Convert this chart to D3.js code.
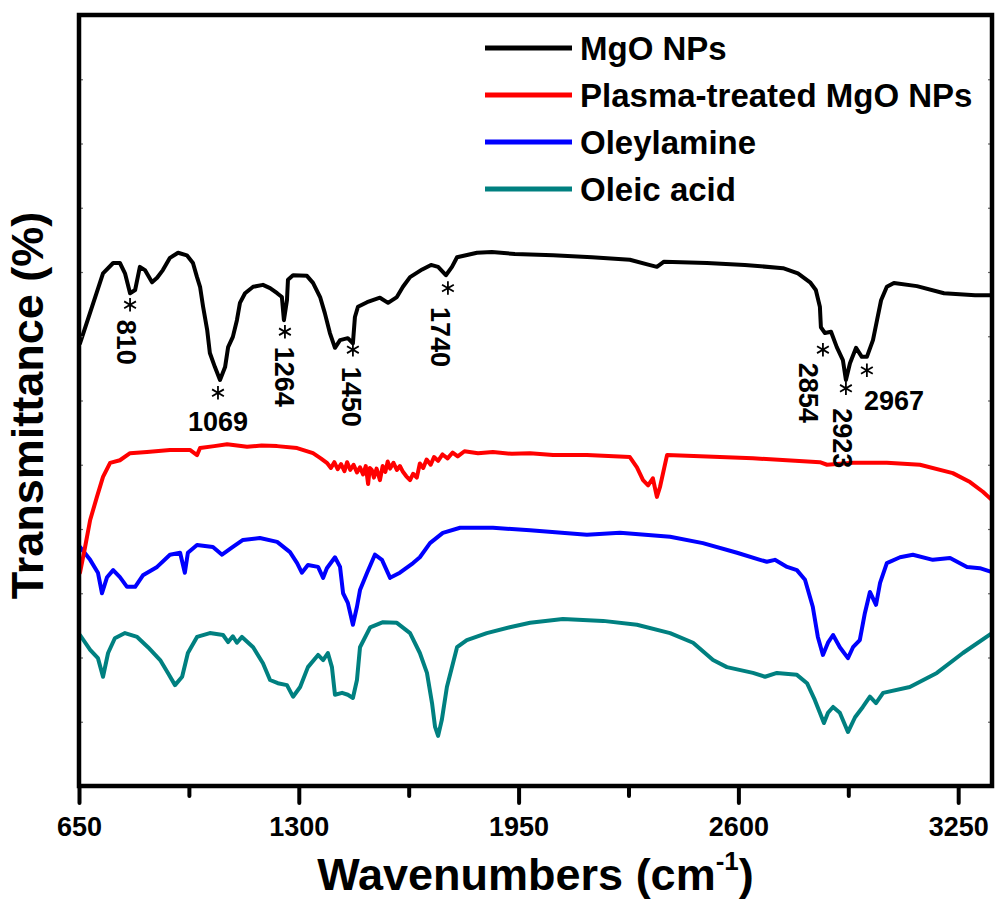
<!DOCTYPE html>
<html><head><meta charset="utf-8">
<script src="https://cdn.jsdelivr.net/npm/d3@7"></script>
<style>
body{margin:0;background:#fff}
svg{display:block}
text{font-family:Arial,"Liberation Sans",sans-serif;font-weight:bold;fill:#000}
</style>
</head><body>
<svg id="c" width="1002" height="903"></svg>
<script>
// ---------- DATA ----------
const seriesNames = ["MgO NPs", "Plasma-treated MgO NPs", "Oleylamine", "Oleic acid"];
const seriesColors = ["#000000", "#ff0000", "#0000ff", "#008080"];

const mgoWn = [653,721,751,771,786,801,816,830,845,866,881,898,919,943,969,987,999,1008,1017,1029,1037,1052,1067,1082,1091,1105,1117,1126,1141,1165,1194,1215,1236,1250,1256,1265,1268,1283,1324,1342,1363,1377,1392,1407,1422,1445,1460,1466,1475,1502,1540,1564,1590,1608,1629,1665,1691,1712,1735,1753,1768,1827,1871,1939,2052,2167,2279,2336,2359,2380,2507,2619,2732,2776,2812,2829,2841,2844,2856,2874,2891,2909,2918,2930,2948,2965,2980,2998,3010,3022,3039,3060,3128,3208,3300,3350];
const mgoT  = [68.9,79.8,81.4,81.4,79.8,76.7,77.2,80.8,80.3,78.4,79.1,80.3,82.2,83.0,82.6,81.4,79.2,77.7,74.6,71.0,67.4,65.2,63.2,65.2,68.3,69.9,72.5,75.2,76.7,77.7,78.0,77.5,76.7,76.1,72.5,75.6,78.8,79.5,79.4,78.3,76.1,73.6,70.5,68.2,69.4,69.7,68.9,73.0,74.6,75.3,76.0,75.2,76.1,77.7,79.2,80.4,81.1,80.8,79.5,80.8,82.3,83.0,83.1,82.8,82.6,82.3,81.9,81.1,80.8,81.6,81.4,81.1,80.6,79.8,78.4,77.2,74.6,71.4,70.5,70.7,68.3,66.3,63.2,65.8,68.2,66.8,66.8,69.4,72.5,75.6,77.7,78.3,77.8,76.7,76.4,76.4];

const plasmaWn = [653,668,683,703,721,742,771,801,851,919,978,999,1008,1050,1088,1147,1190,1236,1295,1342,1365,1383,1395,1405,1415,1425,1435,1443,1452,1462,1472,1481,1490,1498,1505,1510,1516,1522,1530,1540,1548,1556,1563,1570,1580,1590,1599,1608,1618,1629,1638,1649,1658,1668,1678,1690,1700,1712,1725,1740,1755,1770,1790,1830,1874,1930,1984,2052,2152,2279,2300,2318,2333,2347,2359,2368,2389,2448,2643,2841,2862,2939,3039,3137,3234,3285,3323,3350];
const plasmaT  = [33.2,37.2,41.4,45.0,48.1,50.3,50.7,51.8,52.0,52.3,52.3,51.5,52.6,52.9,53.2,52.8,53.0,52.9,52.6,51.8,51.0,50.3,49.5,50.4,49.3,50.1,49.0,50.4,49.2,50.0,48.8,49.6,48.5,49.8,47.0,49.5,49.2,48.0,49.4,47.6,49.8,48.9,50.5,49.4,50.3,49.2,49.8,48.9,48.2,47.6,48.6,48.0,50.2,49.5,50.8,50.0,51.2,50.6,51.6,51.0,51.9,51.3,52.1,51.8,52.0,51.7,51.8,51.5,51.5,51.2,49.6,47.6,46.8,47.9,45.0,46.5,51.5,51.4,51.0,50.4,50.0,50.3,50.3,50.0,48.7,47.3,45.8,44.5];

const oleylWn = [653,683,706,718,733,751,771,792,816,839,881,919,949,963,972,999,1046,1073,1105,1135,1185,1236,1274,1295,1309,1327,1357,1372,1383,1407,1422,1431,1445,1460,1472,1481,1502,1525,1546,1570,1599,1638,1658,1688,1726,1777,1874,1984,2152,2250,2398,2495,2596,2664,2684,2708,2744,2773,2797,2820,2835,2850,2865,2880,2900,2924,2939,2959,2974,2989,3007,3019,3039,3078,3116,3175,3226,3276,3314,3350];
const oleylT  = [37.2,35.2,33.2,30.0,32.5,33.6,32.5,31.0,31.0,32.8,34.1,36.0,36.3,33.2,36.3,37.5,37.2,36.0,37.2,38.3,38.6,38.0,36.4,34.7,33.2,34.4,34.1,32.4,33.9,35.6,34.1,30.0,28.5,25.1,27.9,30.5,33.2,36.0,35.2,32.4,33.2,34.7,35.6,37.8,39.4,40.2,40.2,39.8,39.1,39.4,38.8,37.8,36.3,35.2,34.9,35.2,34.1,33.6,32.1,27.9,23.2,20.4,22.3,23.5,21.6,19.9,21.6,22.7,26.9,30.2,28.2,31.6,34.7,35.6,36.0,35.2,35.5,34.1,33.9,33.3];

const oleicWn = [653,683,706,721,736,756,786,822,854,890,913,934,955,972,999,1037,1076,1091,1105,1117,1132,1165,1194,1215,1238,1265,1283,1304,1327,1357,1372,1386,1398,1407,1428,1445,1460,1472,1481,1511,1549,1590,1629,1658,1679,1694,1703,1712,1723,1738,1768,1797,1856,1924,1984,2081,2200,2300,2398,2466,2525,2566,2643,2679,2714,2773,2803,2826,2841,2853,2865,2880,2900,2924,2945,2968,2989,3007,3028,3107,3187,3264,3350];
const oleicT  = [23.5,21.2,19.9,17.0,20.7,23.0,23.8,23.2,21.6,19.6,17.6,15.7,17.0,20.7,23.2,23.8,23.5,22.4,23.3,22.3,23.2,21.6,19.1,16.5,16.0,15.7,13.9,15.4,18.5,20.4,19.6,20.7,18.5,14.2,14.5,14.2,13.7,16.5,21.6,24.7,25.5,25.4,23.8,20.7,17.6,12.9,9.2,7.8,10.3,15.4,21.6,22.7,23.8,24.7,25.4,26.0,25.7,25.1,23.8,22.3,19.6,18.5,17.6,17.0,17.6,17.3,16.0,13.4,11.4,9.8,11.4,12.3,11.4,8.4,10.7,12.3,13.9,12.9,14.5,15.4,17.6,20.7,23.8];

// peak annotations on the MgO NPs trace
const peakLabels = ["810","1069","1264","1450","1740","2854","2923","2967"];
const peakStarWn = [801,1061,1259,1460,1741,2850,2918,2980];
const peakStarT  = [74.9,61.2,70.7,67.9,77.5,67.9,61.9,64.7];

const xTickValues = [650,1300,1950,2600,3250];
const xMinorTicks = [975,1625,2275,2925];
const yTickValues = [10,20,30,40,50,60,70,80,90,100,110];

// ---------- LAYOUT ----------
const L=79, R=992, T=15, B=786;
// label placement for each peak: [dx, dy, rotated?, anchor]
const peakLayout = [
  [-3,15,true],[0,38,false,"middle"],[0,15,true],[-1,17,true],
  [-7,19,true],[-14,13,true],[-3,20,true],[-3,40,false,"start"]
];

const x = d3.scaleLinear().domain([650,3350]).range([L,R]);
const y = d3.scaleLinear().domain([0,120]).range([B,T]);
const svg = d3.select("#c");

svg.append("defs").append("clipPath").attr("id","clip")
  .append("rect").attr("x",L).attr("y",T).attr("width",R-L).attr("height",B-T);

const series = [
  {wn:mgoWn, t:mgoT},
  {wn:plasmaWn, t:plasmaT},
  {wn:oleylWn, t:oleylT},
  {wn:oleicWn, t:oleicT}
];
const line = d3.line().x(d=>x(d[0])).y(d=>y(d[1]));
[3,2,1,0].forEach(i=>{
  svg.append("path")
    .attr("clip-path","url(#clip)")
    .attr("d", line(d3.zip(series[i].wn, series[i].t)))
    .attr("fill","none")
    .attr("stroke", seriesColors[i])
    .attr("stroke-width",4)
    .attr("stroke-linejoin","round")
    .attr("stroke-linecap","round");
});

// y minor ticks (inside, both sides)
svg.append("g").attr("transform",`translate(${L},0)`)
  .call(d3.axisLeft(y).tickValues(yTickValues).tickSize(-4).tickFormat(""))
  .call(g=>g.select(".domain").remove())
  .selectAll("line").attr("stroke","#666").attr("stroke-width",1.2);
svg.append("g").attr("transform",`translate(${R},0)`)
  .call(d3.axisRight(y).tickValues(yTickValues).tickSize(-4).tickFormat(""))
  .call(g=>g.select(".domain").remove())
  .selectAll("line").attr("stroke","#666").attr("stroke-width",1.2);

// x axis
const gx = svg.append("g").attr("transform",`translate(0,${B})`)
  .call(d3.axisBottom(x).tickValues(xTickValues).tickSize(17).tickPadding(14).tickFormat(d3.format("d")));
gx.select(".domain").remove();
gx.selectAll("line").attr("stroke","#000").attr("stroke-width",4).attr("stroke-linecap","round");
gx.selectAll("text").attr("font-size",27).attr("font-family","Arial, 'Liberation Sans', sans-serif").attr("font-weight","bold").attr("fill","#000");
const gxm = svg.append("g").attr("transform",`translate(0,${B})`)
  .call(d3.axisBottom(x).tickValues(xMinorTicks).tickSize(10).tickFormat(""));
gxm.select(".domain").remove();
gxm.selectAll("line").attr("stroke","#000").attr("stroke-width",4).attr("stroke-linecap","round");

// frame
svg.append("rect").attr("x",L).attr("y",T).attr("width",R-L).attr("height",B-T)
  .attr("fill","none").attr("stroke","#000").attr("stroke-width",4.5);

// peak annotations: asterisk markers + labels
const annFont = 27;
const star = d3.symbol().type(d3.symbolAsterisk).size(130);
peakLabels.forEach((lab,i)=>{
  const cx = x(peakStarWn[i]), cy = y(peakStarT[i]);
  svg.append("path").attr("d",star()).attr("transform",`translate(${cx},${cy})`)
    .attr("fill","none").attr("stroke","#000").attr("stroke-width",1.8);
  const [dx,dy,rot,anchor] = peakLayout[i];
  if (rot) {
    const capH = 0.716*annFont;
    svg.append("text")
      .attr("transform",`translate(${cx+dx-capH/2},${cy+dy}) rotate(90)`)
      .attr("font-size",annFont).attr("text-anchor","start").text(lab);
  } else {
    svg.append("text").attr("x",cx+dx).attr("y",cy+dy)
      .attr("font-size",annFont).attr("text-anchor",anchor).text(lab);
  }
});

// legend
seriesNames.forEach((n,i)=>{
  const ly = 48 + 47*i;
  svg.append("line").attr("x1",485).attr("x2",572).attr("y1",ly).attr("y2",ly)
    .attr("stroke",seriesColors[i]).attr("stroke-width",5);
  svg.append("text").attr("x",580).attr("y",ly+12).attr("font-size",33).text(n);
});

// axis titles
const xt = svg.append("text").attr("x",(L+R)/2).attr("y",890).attr("text-anchor","middle").attr("font-size",45);
xt.append("tspan").text("Wavenumbers (cm");
xt.append("tspan").attr("font-size",26).attr("dy",-20).text("-1");
xt.append("tspan").attr("dy",20).text(")");

svg.append("text").attr("transform",`translate(43,${(T+B)/2+5}) rotate(-90)`)
  .attr("text-anchor","middle").attr("font-size",45).text("Transmittance (%)");
</script>
</body></html>
